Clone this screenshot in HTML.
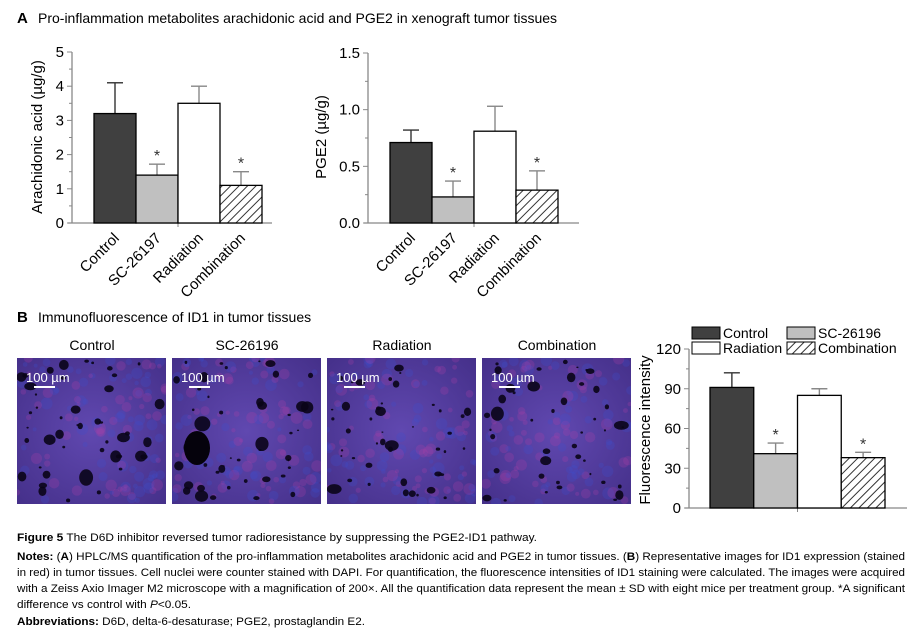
<!DOCTYPE html>
<html><head><meta charset="utf-8"><style>
body{margin:0;width:921px;height:633px;background:#fff;overflow:hidden;font-family:"Liberation Sans",sans-serif}
svg{position:absolute;left:0;top:0}
</style></head><body>
<svg width="921" height="633" font-family="Liberation Sans, sans-serif">
<defs id="defs">
<pattern id="hatch" width="6" height="6" patternUnits="userSpaceOnUse" patternTransform="rotate(45)">
<rect width="6" height="6" fill="#fff"/><line x1="0" y1="0" x2="0" y2="6" stroke="#333" stroke-width="2"/></pattern>
<radialGradient id="tis" cx="50%" cy="50%" r="70%"><stop offset="0" stop-color="#6048b0"/><stop offset="1" stop-color="#45308a"/></radialGradient>
</defs>
<text x="17" y="23" font-size="15" font-weight="bold">A</text>
<text x="38" y="23" font-size="14">Pro-inflammation metabolites arachidonic acid and PGE2 in xenograft tumor tissues</text>
<text x="17" y="322" font-size="15" font-weight="bold">B</text>
<text x="38" y="322" font-size="14">Immunofluorescence of ID1 in tumor tissues</text>
<g id="c1"></g>
<g id="c2"></g>
<g id="c3"></g>
<g id="imgs"></g>
<g font-size="11">
<text x="17" y="541" textLength="520" lengthAdjust="spacingAndGlyphs"><tspan font-weight="bold">Figure 5</tspan> The D6D inhibitor reversed tumor radioresistance by suppressing the PGE2-ID1 pathway.</text>
<text x="17" y="560" textLength="888" lengthAdjust="spacingAndGlyphs"><tspan font-weight="bold">Notes:</tspan> (<tspan font-weight="bold">A</tspan>) HPLC/MS quantification of the pro-inflammation metabolites arachidonic acid and PGE2 in tumor tissues. (<tspan font-weight="bold">B</tspan>) Representative images for ID1 expression (stained</text>
<text x="17" y="576" textLength="888" lengthAdjust="spacingAndGlyphs">in red) in tumor tissues. Cell nuclei were counter stained with DAPI. For quantification, the fluorescence intensities of ID1 staining were calculated. The images were acquired</text>
<text x="17" y="592" textLength="888" lengthAdjust="spacingAndGlyphs">with a Zeiss Axio Imager M2 microscope with a magnification of 200×. All the quantification data represent the mean ± SD with eight mice per treatment group. *A significant</text>
<text x="17" y="608" textLength="174" lengthAdjust="spacingAndGlyphs">difference vs control with <tspan font-style="italic">P</tspan>&lt;0.05.</text>
<text x="17" y="625" textLength="348" lengthAdjust="spacingAndGlyphs"><tspan font-weight="bold">Abbreviations:</tspan> D6D, delta-6-desaturase; PGE2, prostaglandin E2.</text>
</g>
</svg>
<script>
const groupsA = ["Control","SC-26197","Radiation","Combination"];
const aaValues = [3.2,1.4,3.5,1.1];
const aaErrors = [0.9,0.32,0.5,0.4];
const aaTicks = [0,1,2,3,4,5];
const pgeValues = [0.71,0.23,0.81,0.29];
const pgeErrors = [0.11,0.14,0.22,0.17];
const pgeTicks = ["0.0","0.5","1.0","1.5"];
const groupsB = ["Control","SC-26196","Radiation","Combination"];
const fiValues = [91,41,85,38];
const fiErrors = [11,8,5,4];
const fiTicks = [0,30,60,90,120];
const sig = [false,true,false,true];
const fills = ["#404040","#c0c0c0","#ffffff","url(#hatch)"];
const NS="http://www.w3.org/2000/svg";
function mk(p,t,a,txt){const e=document.createElementNS(NS,t);for(const k in a)e.setAttribute(k,a[k]);if(txt!==undefined)e.textContent=txt;p.appendChild(e);return e;}
function chart(g,o){
  const y=v=>o.y0-(v-o.min)/(o.max-o.min)*(o.y0-o.yTop);
  const bw=(o.x1-o.x0)/o.vals.length;
  const ax=mk(g,'line',{x1:o.ax,y1:o.yTop,x2:o.ax,y2:o.y0,stroke:'#888','stroke-width':1.3});
  
  const xa=mk(g,'line',{x1:o.ax-4,y1:o.y0,x2:o.xEnd,y2:o.y0,stroke:'#888','stroke-width':1.3});
  
  mk(g,'line',{x1:(o.x0+o.x1)/2,y1:o.y0,x2:(o.x0+o.x1)/2,y2:o.y0+4,stroke:'#888'});
  const nt=o.ticks.length;
  o.ticks.forEach((t,i)=>{const v=o.min+(o.max-o.min)*i/(nt-1);const yy=y(v);
    mk(g,'line',{x1:o.ax-5,y1:yy,x2:o.ax,y2:yy,stroke:'#888'});
    if(i<nt-1){const ym=y(v+(o.max-o.min)/(nt-1)/2);mk(g,'line',{x1:o.ax-3,y1:ym,x2:o.ax,y2:ym,stroke:'#888'});}
    const tl=mk(g,'text',{x:o.ax-8,y:yy+5,'font-size':15,'text-anchor':'end'},String(t));
    });
  o.vals.forEach((v,i)=>{const bx=o.x0+i*bw,cx=bx+bw/2;const top=y(v+o.errs[i]);
    const el=mk(g,'line',{x1:cx,y1:y(v),x2:cx,y2:top,stroke:i==0?'#333':'#888','stroke-width':1.4});
    
    mk(g,'line',{x1:cx-8,y1:top,x2:cx+8,y2:top,stroke:i==0?'#333':'#888','stroke-width':1.4});
    const r=mk(g,'rect',{x:bx,y:y(v),width:bw,height:o.y0-y(v),fill:fills[i],stroke:'#000','stroke-width':1.3});
    
    if(sig[i]){const s=mk(g,'text',{x:cx,y:top-3,'font-size':16,'text-anchor':'middle',fill:'#333'},'*');
      }
    if(o.xlab){const lx=cx+5,ly=o.y0+16;const l=mk(g,'text',{x:lx,y:ly,'font-size':15,'text-anchor':'end',transform:`rotate(-45 ${lx} ${ly})`},o.cats[i]);
      }
  });
  const t=mk(g,'text',{x:o.lx,y:o.ly,'font-size':15,'text-anchor':'middle',transform:`rotate(-90 ${o.lx} ${o.ly})`},o.title);
  
}
chart(document.getElementById('c1'),{ax:72,y0:223,yTop:52,min:0,max:5,x0:94,x1:262,xEnd:272,vals:aaValues,errs:aaErrors,ticks:aaTicks,cats:groupsA,xlab:true,title:'Arachidonic acid (µg/g)',lx:42,ly:137});
chart(document.getElementById('c2'),{ax:368,y0:223,yTop:53,min:0,max:1.5,x0:390,x1:558,xEnd:579,vals:pgeValues,errs:pgeErrors,ticks:pgeTicks,cats:groupsA,xlab:true,title:'PGE2 (µg/g)',lx:326,ly:137});
chart(document.getElementById('c3'),{ax:689,y0:508,yTop:349,min:0,max:120,x0:710,x1:885,xEnd:907,vals:fiValues,errs:fiErrors,ticks:fiTicks,cats:groupsB,xlab:false,title:'Fluorescence intensity',lx:650,ly:430});
const c3=document.getElementById('c3');
[[692,327,0],[787,327,1],[692,342,2],[787,342,3]].forEach(([x,yy,i])=>{
  const b=mk(c3,'rect',{x:x,y:yy,width:28,height:12,fill:fills[i],stroke:'#000'});
  
  const t=mk(c3,'text',{x:x+31,y:yy+11,'font-size':14},groupsB[i]);
  });
// micrographs (texture only)
const ig=document.getElementById('imgs');
const defs=document.getElementById('defs');
const px=[17,172,327,482];
let seed=7;function rnd(){seed=(seed*16807)%2147483647;return seed/2147483647;}
px.forEach((x,i)=>{
  const cp=mk(defs,'clipPath',{id:'cp'+i});mk(cp,'rect',{x:x,y:358,width:149,height:146});
  const pg=mk(ig,'g',{'clip-path':'url(#cp'+i+')'});
  
  
  mk(pg,'rect',{x:x,y:358,width:149,height:146,fill:'url(#tis)'});
  for(let k=0;k<120;k++){mk(pg,'circle',{cx:x+rnd()*149,cy:358+rnd()*146,r:2+rnd()*4,fill:rnd()<0.5?'#b040a8':'#3a50d0',opacity:0.25});}
  for(let k=0;k<45;k++){const rr=1+rnd()*rnd()*7;mk(pg,'ellipse',{cx:x+3+rnd()*143,cy:361+rnd()*140,rx:rr,ry:rr*(0.6+rnd()*0.6),fill:'#0a0418',opacity:0.9});}
  if(i==1)mk(pg,'ellipse',{cx:x+25,cy:448,rx:13,ry:17,fill:'#05020c'});
  const s=mk(ig,'text',{x:x+9,y:382,'font-size':13,fill:'#fff'},'100 µm');
  
  mk(ig,'line',{x1:x+17,y1:387,x2:x+38,y2:387,stroke:'#fff','stroke-width':2});
  const t=mk(ig,'text',{x:x+75,y:350,'font-size':14,'text-anchor':'middle'},groupsB[i]);
  
});
</script>
</body></html>
